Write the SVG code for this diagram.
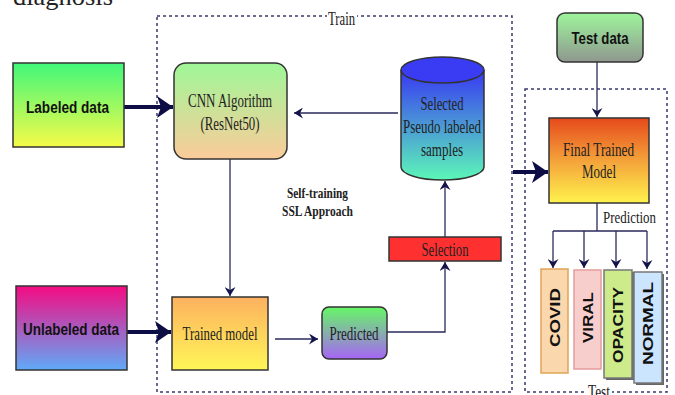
<svg xmlns="http://www.w3.org/2000/svg" width="675" height="395" viewBox="0 0 675 395">
<style>
.serif{font-family:"Liberation Serif","Times New Roman",serif;fill:#222;}
.bold{font-family:"Liberation Sans",Arial,sans-serif;font-weight:bold;fill:#111;}
.dash{fill:none;stroke:#3a3a6e;stroke-width:1.5;stroke-dasharray:3,3;}
.box{stroke:#333;stroke-width:1.5;}
.thick{fill:none;stroke:#0d0d45;stroke-width:4;}
.thin{fill:none;stroke:#2a2a5e;stroke-width:1.3;}
</style>
<defs>
<linearGradient id="gLab" x1="0" y1="0" x2="0" y2="1"><stop offset="0" stop-color="#40f77a"/><stop offset="1" stop-color="#f6fb48"/></linearGradient>
<linearGradient id="gCnn" x1="0" y1="0" x2="0" y2="1"><stop offset="0" stop-color="#9ff797"/><stop offset="1" stop-color="#fbcb9a"/></linearGradient>
<linearGradient id="gCyl" x1="0" y1="0" x2="0" y2="1"><stop offset="0" stop-color="#3838f3"/><stop offset="1" stop-color="#5cf7b8"/></linearGradient>
<linearGradient id="gTest" x1="0" y1="0" x2="0" y2="1"><stop offset="0" stop-color="#9ef59c"/><stop offset="1" stop-color="#8f978f"/></linearGradient>
<linearGradient id="gFin" x1="0" y1="0" x2="0" y2="1"><stop offset="0" stop-color="#e64a1c"/><stop offset="0.5" stop-color="#f4a23a"/><stop offset="1" stop-color="#fff34d"/></linearGradient>
<linearGradient id="gUnl" x1="0" y1="0" x2="0" y2="1"><stop offset="0" stop-color="#f50a82"/><stop offset="1" stop-color="#60aaf8"/></linearGradient>
<linearGradient id="gTrm" x1="0" y1="0" x2="0" y2="1"><stop offset="0" stop-color="#fdb160"/><stop offset="1" stop-color="#fff657"/></linearGradient>
<linearGradient id="gPred" x1="0" y1="0" x2="0" y2="1"><stop offset="0" stop-color="#66f766"/><stop offset="1" stop-color="#a765f5"/></linearGradient>
<marker id="mBig" markerUnits="userSpaceOnUse" markerWidth="17" markerHeight="22" refX="16" refY="11" orient="auto"><path d="M0,0 L16,11 L0,22 L4,11 z" fill="#0d0d45"/></marker>
<marker id="mSmall" markerUnits="userSpaceOnUse" markerWidth="10" markerHeight="11" refX="9" refY="5.5" orient="auto"><path d="M0,0 L9,5.5 L0,11 L3,5.5 z" fill="#14144a"/></marker>
</defs>
<rect width="675" height="395" fill="#fff"/>
<text class="serif" x="13" y="5" font-size="26" textLength="100" lengthAdjust="spacingAndGlyphs">diagnosis</text>

<g id="train-frame">
<rect class="dash" x="157" y="16" width="355" height="376"/>
<rect x="327" y="10" width="30" height="14" fill="#fff"/>
<text class="serif" x="328" y="25" font-size="18" textLength="27" lengthAdjust="spacingAndGlyphs">Train</text>
</g>
<g id="test-frame">
<rect class="dash" x="525" y="89" width="142" height="303"/>
<rect x="586" y="386" width="26" height="10" fill="#fff"/>
<text class="serif" x="588" y="398" font-size="18" textLength="22" lengthAdjust="spacingAndGlyphs">Test</text>
</g>

<g id="connectors">
<path class="thick" d="M124,107 L173,107" marker-end="url(#mBig)"/>
<path class="thick" d="M127,332 L171,332" marker-end="url(#mBig)"/>
<path class="thick" d="M513,172 L548,172" marker-end="url(#mBig)"/>
<path class="thin" d="M398,113 L294,113" marker-end="url(#mSmall)"/>
<path class="thin" d="M230,159 L230,296" stroke="#5a5a85" marker-end="url(#mSmall)"/>
<path class="thin" d="M275,339 L318,339" marker-end="url(#mSmall)"/>
<path class="thin" d="M387,332 L445,332 L445,262" marker-end="url(#mSmall)"/>
<path class="thin" d="M445,237 L445,181" marker-end="url(#mSmall)"/>
<path class="thin" d="M597,62 L597,117" stroke="#333" marker-end="url(#mSmall)"/>
<path class="thin" d="M597,203 L597,231 M553,231 L647,231"/>
<path class="thin" d="M553,231 L553,268" marker-end="url(#mSmall)"/>
<path class="thin" d="M584,231 L584,268" marker-end="url(#mSmall)"/>
<path class="thin" d="M616,231 L616,268" marker-end="url(#mSmall)"/>
<path class="thin" d="M647,231 L647,269" marker-end="url(#mSmall)"/>
<text class="serif" x="603" y="223" font-size="17" textLength="53" lengthAdjust="spacingAndGlyphs">Prediction</text>
</g>

<g id="labeled-data">
<rect class="box" x="13" y="63" width="111" height="84" fill="url(#gLab)"/>
<text class="bold" x="67.5" y="113" font-size="17" text-anchor="middle" textLength="83" lengthAdjust="spacingAndGlyphs">Labeled data</text>
</g>
<g id="cnn">
<rect class="box" x="174" y="63" width="113" height="96" rx="12" fill="url(#gCnn)"/>
<text class="serif" x="230" y="107" font-size="18" text-anchor="middle" textLength="84" lengthAdjust="spacingAndGlyphs">CNN Algorithm</text>
<text class="serif" x="230" y="130" font-size="18" text-anchor="middle" textLength="59" lengthAdjust="spacingAndGlyphs">(ResNet50)</text>
</g>
<g id="pseudo-samples">
<path class="box" d="M401,70 L401,167 A41.5,13 0 0 0 484,167 L484,70" fill="url(#gCyl)"/>
<ellipse class="box" cx="442.5" cy="70" rx="41.5" ry="13" fill="#3a3cf3"/>
<text class="serif" x="442" y="110" font-size="18" text-anchor="middle" textLength="43" lengthAdjust="spacingAndGlyphs">Selected</text>
<text class="serif" x="442" y="133" font-size="18" text-anchor="middle" textLength="78" lengthAdjust="spacingAndGlyphs">Pseudo labeled</text>
<text class="serif" x="442" y="156" font-size="18" text-anchor="middle" textLength="42" lengthAdjust="spacingAndGlyphs">samples</text>
</g>
<g id="self-training-label">
<text class="serif" x="317.5" y="198" font-size="14" font-weight="bold" text-anchor="middle" textLength="61" lengthAdjust="spacingAndGlyphs" fill="#111">Self-training</text>
<text class="serif" x="317.5" y="216" font-size="14" font-weight="bold" text-anchor="middle" textLength="71" lengthAdjust="spacingAndGlyphs" fill="#111">SSL Approach</text>
</g>
<g id="selection">
<rect class="box" x="389" y="237" width="112" height="24" fill="#ff3030"/>
<text class="serif" x="445" y="256" font-size="18" text-anchor="middle" textLength="47" lengthAdjust="spacingAndGlyphs">Selection</text>
</g>
<g id="unlabeled-data">
<rect class="box" x="16" y="286" width="111" height="84" fill="url(#gUnl)"/>
<text class="bold" x="71" y="335" font-size="17" text-anchor="middle" textLength="96" lengthAdjust="spacingAndGlyphs">Unlabeled data</text>
</g>
<g id="trained-model">
<rect class="box" x="172" y="297" width="96" height="73" fill="url(#gTrm)"/>
<text class="serif" x="220" y="340" font-size="18" text-anchor="middle" textLength="75" lengthAdjust="spacingAndGlyphs">Trained model</text>
</g>
<g id="predicted">
<rect class="box" x="322" y="307" width="65" height="52" rx="7" fill="url(#gPred)"/>
<text class="serif" x="354" y="340" font-size="18" text-anchor="middle" textLength="49" lengthAdjust="spacingAndGlyphs">Predicted</text>
</g>
<g id="test-data">
<rect class="box" x="557" y="13" width="86" height="49" rx="8" fill="url(#gTest)"/>
<text class="bold" x="600" y="44" font-size="17" text-anchor="middle" textLength="57" lengthAdjust="spacingAndGlyphs">Test data</text>
</g>
<g id="final-model">
<rect class="box" x="549" y="118" width="100" height="85" fill="url(#gFin)"/>
<text class="serif" x="598.5" y="156" font-size="18" text-anchor="middle" textLength="71" lengthAdjust="spacingAndGlyphs">Final Trained</text>
<text class="serif" x="599" y="178" font-size="18" text-anchor="middle" textLength="34" lengthAdjust="spacingAndGlyphs">Model</text>
</g>
<g id="covid">
<rect x="541" y="269" width="27" height="104" fill="#fad7ac" stroke="#e0a456" stroke-width="1.5"/>
<text class="bold" x="555" y="322" font-size="15" text-anchor="middle" textLength="59" lengthAdjust="spacingAndGlyphs" transform="rotate(-90 555 317.5)">COVID</text>
</g>
<g id="viral">
<rect x="574" y="270" width="27" height="99" fill="#f8cecc" stroke="#e59c9c" stroke-width="1.5"/>
<text class="bold" x="588" y="322" font-size="15" text-anchor="middle" textLength="51" lengthAdjust="spacingAndGlyphs" transform="rotate(-90 588 317.5)">VIRAL</text>
</g>
<g id="opacity">
<rect x="606" y="272" width="28" height="108" fill="#666"/>
<rect x="604" y="270" width="28" height="108" fill="#cdeb8b" stroke="#777" stroke-width="1.5"/>
<text class="bold" x="618" y="330" font-size="15" text-anchor="middle" textLength="76" lengthAdjust="spacingAndGlyphs" transform="rotate(-90 618 325)">OPACITY</text>
</g>
<g id="normal">
<rect x="636" y="274" width="28" height="111" fill="#666"/>
<rect x="634" y="272" width="28" height="111" fill="#cce5ff" stroke="#777" stroke-width="1.5"/>
<text class="bold" x="648" y="328.5" font-size="15" text-anchor="middle" textLength="83" lengthAdjust="spacingAndGlyphs" transform="rotate(-90 648 323.5)">NORMAL</text>
</g>
</svg>
